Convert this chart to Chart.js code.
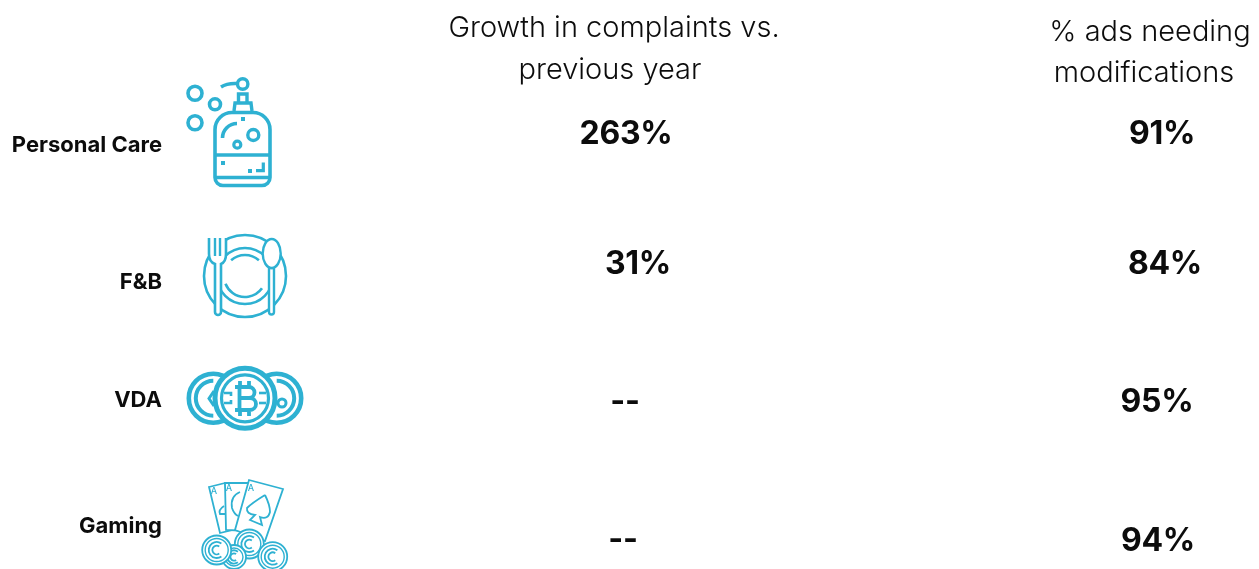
<!DOCTYPE html>
<html>
<head>
<meta charset="utf-8">
<title>Complaints and ad modifications by sector</title>
<script src="https://cdn.jsdelivr.net/npm/chart.js@4/dist/chart.umd.min.js"></script>
<style>
  html, body { margin: 0; padding: 0; background: #fff; overflow: hidden; }
  canvas { display: block; }
</style>
</head>
<body>
<canvas id="sectorChart" width="1259" height="569"></canvas>
<script>
const categories = ['Personal Care', 'F&B', 'VDA', 'Gaming'];
const columns = ['Growth in complaints vs. previous year', '% ads needing modifications'];
const complaintGrowth = [263, 31, null, null];
const adsNeedingChanges = [91, 84, 95, 94];

const ICON_BLUE = '#2eb1d2';
const FONT = 'Inter, "Noto Sans", sans-serif';

// Hand placement of the header lines and cells around their scale positions
const headerLayout = [
    [{ text: 'Growth in complaints vs.', dx: -11, y: 28 }, { text: 'previous year', dx: -15, y: 70 }],
    [{ text: '% ads needing', dx: -10, y: 32 }, { text: 'modifications', dx: -16, y: 73 }]
];
const cellNudge = [
    [{ x: 1, y: 1 }, { x: 13, y: -3 }, { x: 0, y: 1 }, { x: -2, y: 5 }],
    [{ x: 2, y: 1 }, { x: 5, y: -3 }, { x: -3, y: 1 }, { x: -2, y: 6 }]
];
const labelOffsetY = [12, 15, -1, -9];

function makePoints(values, columnIndex) {
    return values.map((value, i) => ({ x: columns[columnIndex], y: categories[i], value: value }));
}

function formatCell(value) {
    return value === null ? '--' : `${value}%`;
}

function circle(ctx, x, y, r, lineWidth, fill) {
    ctx.beginPath();
    ctx.arc(x, y, r, 0, Math.PI * 2);
    if (fill) {
        ctx.fillStyle = '#fff';
        ctx.fill();
    }
    ctx.lineWidth = lineWidth;
    ctx.stroke();
}

function line(ctx, lineWidth, points) {
    ctx.beginPath();
    points.forEach((p, i) => (i === 0 ? ctx.moveTo(p[0], p[1]) : ctx.lineTo(p[0], p[1])));
    ctx.lineWidth = lineWidth;
    ctx.stroke();
}

function drawSoap(ctx) {
    circle(ctx, 195, 93.3, 7, 3.6);
    circle(ctx, 215, 104.3, 5.5, 3.6);
    circle(ctx, 195, 122.7, 7, 3.6);
    circle(ctx, 242.7, 84, 5.2, 3.4);
    ctx.beginPath();
    ctx.moveTo(221, 87);
    ctx.quadraticCurveTo(227, 83, 237, 83.5);
    ctx.lineWidth = 3.4;
    ctx.stroke();
    line(ctx, 3.4, [[238.5, 103], [238.5, 94], [247, 94], [247, 103]]);
    line(ctx, 3.4, [[234, 111], [235, 103], [251, 103], [252, 111]]);
    // bottle body
    ctx.beginPath();
    ctx.moveTo(232, 112.5);
    ctx.lineTo(253, 112.5);
    ctx.arcTo(270, 112.5, 270, 130, 17);
    ctx.lineTo(270, 177);
    ctx.arcTo(270, 185.5, 261, 185.5, 8);
    ctx.lineTo(224, 185.5);
    ctx.arcTo(215, 185.5, 215, 177, 8);
    ctx.lineTo(215, 130);
    ctx.arcTo(215, 112.5, 232, 112.5, 17);
    ctx.closePath();
    ctx.lineWidth = 3.6;
    ctx.stroke();
    line(ctx, 3.4, [[215, 155], [270, 155]]);
    line(ctx, 3.4, [[215, 177.5], [270, 177.5]]);
    ctx.lineWidth = 3.6;
    ctx.beginPath();
    ctx.arc(237, 138, 14.5, Math.PI, Math.PI * 1.5);
    ctx.stroke();
    circle(ctx, 253.3, 135, 5.5, 3.4);
    circle(ctx, 237.3, 144.7, 3.5, 3.2);
    ctx.fillStyle = ICON_BLUE;
    ctx.fillRect(241, 117, 4, 4);
    ctx.fillRect(221, 161, 4, 4);
    ctx.fillRect(248, 169, 4, 4);
    line(ctx, 3.2, [[256, 170.7], [263.3, 170.7], [263.3, 162.5]]);
}

function drawPlate(ctx) {
    circle(ctx, 245, 276, 41, 2.6);
    circle(ctx, 245, 276, 28, 2.6);
    ctx.lineWidth = 2.6;
    ctx.beginPath();
    ctx.arc(245, 276, 21, Math.PI * 1.27, Math.PI * 1.73);
    ctx.stroke();
    ctx.beginPath();
    ctx.arc(245, 276, 21, Math.PI * 0.2, Math.PI * 0.88);
    ctx.stroke();
    // fork
    ctx.beginPath();
    ctx.moveTo(209, 238);
    ctx.lineTo(209, 254);
    ctx.quadraticCurveTo(209, 262, 215, 264);
    ctx.lineTo(215, 312);
    ctx.arc(218, 312, 3, Math.PI, 0, true);
    ctx.lineTo(221, 264);
    ctx.quadraticCurveTo(226, 262, 226, 254);
    ctx.lineTo(226, 238);
    ctx.fillStyle = '#fff';
    ctx.fill();
    ctx.lineWidth = 2.6;
    ctx.stroke();
    line(ctx, 2.4, [[215, 238], [215, 256]]);
    line(ctx, 2.4, [[220, 238], [220, 256]]);
    // spoon
    ctx.beginPath();
    ctx.moveTo(269, 268);
    ctx.lineTo(269, 312);
    ctx.arc(271.5, 312, 2.5, Math.PI, 0, true);
    ctx.lineTo(274, 268);
    ctx.closePath();
    ctx.fillStyle = '#fff';
    ctx.fill();
    ctx.stroke();
    ctx.beginPath();
    ctx.ellipse(271.7, 253.5, 9, 14.5, 0, 0, Math.PI * 2);
    ctx.fill();
    ctx.stroke();
}

function drawSideCoin(ctx, x, mirror) {
    circle(ctx, x, 398.3, 24.5, 4.6, true);
    ctx.lineWidth = 4;
    ctx.beginPath();
    if (mirror) {
        ctx.arc(x, 398.3, 17.5, -Math.PI * 0.5, Math.PI * 0.5);
    } else {
        ctx.arc(x, 398.3, 17.5, Math.PI * 0.5, Math.PI * 1.5);
    }
    ctx.stroke();
}

function drawCoins(ctx) {
    drawSideCoin(ctx, 213.3, false);
    drawSideCoin(ctx, 276.7, true);
    line(ctx, 3, [[214, 391], [209, 398.5], [214, 406]]);
    circle(ctx, 282, 403, 4, 3);
    circle(ctx, 245, 398.3, 30, 5, true);
    circle(ctx, 245, 398.3, 23.5, 3.2);
    // bitcoin glyph
    ctx.lineWidth = 3.8;
    ctx.beginPath();
    ctx.moveTo(235, 387);
    ctx.lineTo(249, 387);
    ctx.arc(249, 392.5, 5.5, -Math.PI / 2, Math.PI / 2);
    ctx.moveTo(239, 398);
    ctx.lineTo(250, 398);
    ctx.arc(250, 404, 6, -Math.PI / 2, Math.PI / 2);
    ctx.lineTo(235, 410);
    ctx.moveTo(239.5, 387);
    ctx.lineTo(239.5, 410);
    ctx.moveTo(240, 381);
    ctx.lineTo(240, 387);
    ctx.moveTo(249, 381);
    ctx.lineTo(249, 387);
    ctx.moveTo(240, 410);
    ctx.lineTo(240, 416);
    ctx.moveTo(249, 410);
    ctx.lineTo(249, 416);
    ctx.stroke();
    line(ctx, 2.6, [[224, 393], [231, 393], [231, 396]]);
    line(ctx, 2.6, [[224, 403], [231, 403], [231, 400]]);
    line(ctx, 2.6, [[259, 393], [266, 393]]);
    line(ctx, 2.6, [[259, 403], [266, 403]]);
}

function drawCard(ctx, corners) {
    ctx.beginPath();
    corners.forEach((p, i) => (i === 0 ? ctx.moveTo(p[0], p[1]) : ctx.lineTo(p[0], p[1])));
    ctx.closePath();
    ctx.fillStyle = '#fff';
    ctx.fill();
    ctx.lineWidth = 1.8;
    ctx.stroke();
}

function drawChip(ctx, x, y, r) {
    circle(ctx, x, y, r, 1.8, true);
    circle(ctx, x, y, r - 3, 1.4);
    ctx.lineWidth = 1.8;
    ctx.beginPath();
    ctx.arc(x, y, r * 0.55, Math.PI * 0.3, Math.PI * 1.7);
    ctx.stroke();
    ctx.beginPath();
    ctx.arc(x, y, r * 0.3, Math.PI * 0.3, Math.PI * 1.7);
    ctx.stroke();
}

function drawCards(ctx) {
    drawCard(ctx, [[209, 487], [225, 483], [232, 530], [220, 533]]);
    drawCard(ctx, [[225, 483], [248, 483], [248, 531], [226, 530]]);
    // spades peeking out from under the front cards
    ctx.lineWidth = 1.8;
    ctx.beginPath();
    ctx.moveTo(224, 506);
    ctx.quadraticCurveTo(218, 510, 220, 514);
    ctx.lineTo(225, 514);
    ctx.stroke();
    ctx.beginPath();
    ctx.moveTo(240, 492);
    ctx.quadraticCurveTo(230, 496, 232, 508);
    ctx.quadraticCurveTo(234, 514, 238, 516);
    ctx.stroke();
    drawCard(ctx, [[249, 480], [283, 489], [265, 541], [235, 530]]);
    ctx.beginPath();
    ctx.moveTo(265, 495);
    ctx.quadraticCurveTo(270, 505, 270, 512);
    ctx.quadraticCurveTo(268, 520, 260, 517);
    ctx.lineTo(262, 525);
    ctx.lineTo(250, 520);
    ctx.lineTo(255, 515);
    ctx.quadraticCurveTo(246, 514, 247, 508);
    ctx.quadraticCurveTo(252, 503, 265, 495);
    ctx.stroke();
    ctx.fillStyle = ICON_BLUE;
    ctx.font = `500 9px ${FONT}`;
    ctx.textAlign = 'center';
    ctx.textBaseline = 'middle';
    ctx.fillText('A', 214, 491);
    ctx.fillText('A', 229, 488);
    ctx.fillText('A', 251, 488);
    drawChip(ctx, 249.3, 544, 14.5);
    drawChip(ctx, 234, 557, 12);
    drawChip(ctx, 216.7, 550, 14.5);
    drawChip(ctx, 272.7, 556.7, 14.5);
}

// Draws headers, row labels, cell values and sector icons from the scales
const tablePlugin = {
    id: 'tablePlugin',
    afterDatasetsDraw(chart) {
        const ctx = chart.ctx;
        const xScale = chart.scales.x;
        const yScale = chart.scales.y;

        ctx.save();
        ctx.fillStyle = '#0c0c0c';
        ctx.textBaseline = 'middle';
        ctx.textAlign = 'center';

        ctx.font = `300 29px ${FONT}`;
        columns.forEach((column, c) => {
            const x = xScale.getPixelForValue(c);
            headerLayout[c].forEach(row => ctx.fillText(row.text, x + row.dx, row.y));
        });

        chart.data.datasets.forEach((dataset, c) => {
            ctx.font = `700 32px ${FONT}`;
            ctx.letterSpacing = '-0.3px';
            chart.getDatasetMeta(c).data.forEach((point, i) => {
                const nudge = cellNudge[c][i];
                ctx.fillText(formatCell(dataset.data[i].value), point.x + nudge.x, point.y + nudge.y);
            });
        });
        ctx.letterSpacing = '0px';

        ctx.font = `700 22px ${FONT}`;
        ctx.textAlign = 'right';
        categories.forEach((category, i) => {
            ctx.fillText(category, 162, yScale.getPixelForValue(i) + labelOffsetY[i]);
        });
        ctx.restore();

        ctx.save();
        ctx.strokeStyle = ICON_BLUE;
        ctx.lineCap = 'butt';
        ctx.lineJoin = 'miter';
        drawSoap(ctx);
        drawPlate(ctx);
        drawCoins(ctx);
        drawCards(ctx);
        ctx.restore();
    }
};

new Chart(document.getElementById('sectorChart'), {
    type: 'scatter',
    data: {
        datasets: [
            { label: columns[0], data: makePoints(complaintGrowth, 0), pointRadius: 0 },
            { label: columns[1], data: makePoints(adsNeedingChanges, 1), pointRadius: 0 }
        ]
    },
    options: {
        responsive: false,
        animation: false,
        layout: { padding: { left: 625, right: 99, top: 133, bottom: 34 } },
        plugins: { legend: { display: false }, tooltip: { enabled: false } },
        scales: {
            x: { type: 'category', labels: columns, offset: false, display: false },
            y: { type: 'category', labels: categories, offset: false, display: false }
        }
    },
    plugins: [tablePlugin]
});
</script>
</body>
</html>
